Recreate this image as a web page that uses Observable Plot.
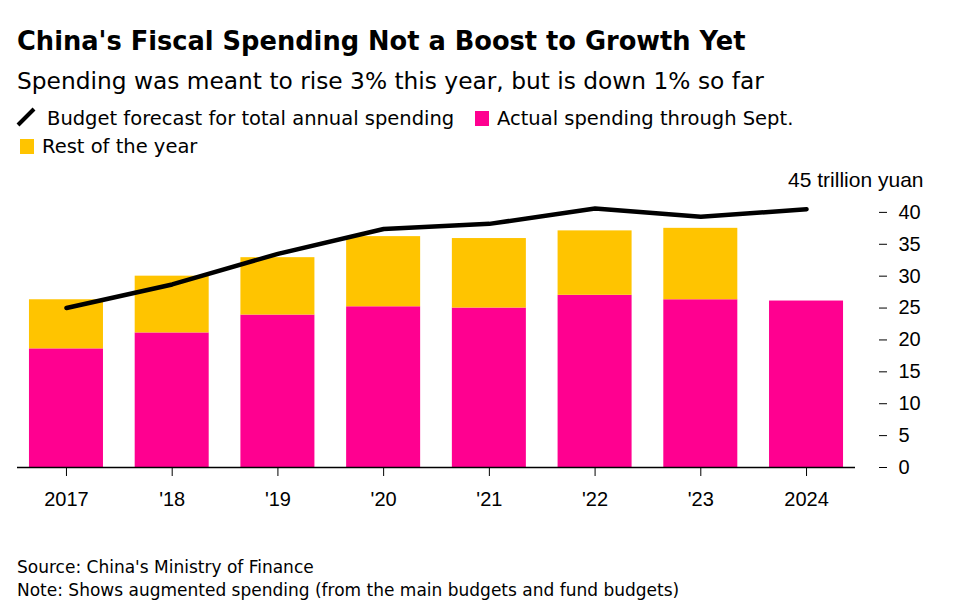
<!DOCTYPE html>
<html><head><meta charset="utf-8">
<script src="https://cdn.jsdelivr.net/npm/d3@7"></script>
<script src="https://cdn.jsdelivr.net/npm/@observablehq/plot@0.6"></script>
<style>
body{margin:0;background:#fff;font-family:"DejaVu Sans",sans-serif;color:#000;}
#wrap{position:relative;width:968px;height:608px;overflow:hidden;background:#fff;}
.t{position:absolute;white-space:nowrap;line-height:1;}
.sw{position:absolute;width:14px;height:15px;}
</style></head><body>
<div id="wrap">
<div class="t" style="left:17px;top:29px;font-size:25.7px;font-weight:bold">China's Fiscal Spending Not a Boost to Growth Yet</div>
<div class="t" style="left:17px;top:69px;font-size:23.3px">Spending was meant to rise 3% this year, but is down 1% so far</div>
<svg style="position:absolute;left:14px;top:105px" width="26" height="26"><line x1="4" y1="20" x2="20" y2="4" stroke="#000" stroke-width="4"/></svg>
<div class="t" style="left:47px;top:108.5px;font-size:19.5px">Budget forecast for total annual spending</div>
<div class="sw" style="left:475px;top:111px;background:#FF0090"></div>
<div class="t" style="left:497px;top:108.5px;font-size:19.5px">Actual spending through Sept.</div>
<div class="sw" style="left:20px;top:139px;background:#FFC400"></div>
<div class="t" style="left:42px;top:136.5px;font-size:19.5px">Rest of the year</div>
<div id="chart" style="position:absolute;left:0;top:165px"></div>
<div class="t" style="left:17px;top:559px;font-size:17px">Source: China's Ministry of Finance</div>
<div class="t" style="left:17px;top:582px;font-size:17px">Note: Shows augmented spending (from the main budgets and fund budgets)</div>
</div>
<script>
const years = [2017, 2018, 2019, 2020, 2021, 2022, 2023, 2024];
const tickLabels = ["2017", "'18", "'19", "'20", "'21", "'22", "'23", "2024"];
const actualSpending = [18.6, 21.1, 23.9, 25.2, 25.0, 27.0, 26.3, 26.1];
const restOfYear = [7.7, 8.9, 9.0, 11.0, 10.9, 10.1, 11.2, null];
const budgetForecast = [25.0, 28.7, 33.5, 37.4, 38.2, 40.6, 39.3, 40.5];
const yTicks = [0, 5, 10, 15, 20, 25, 30, 35, 40];
const seriesNames = ["Actual spending through Sept.", "Rest of the year"];
const seriesColors = ["#FF0090", "#FFC400"];

const bars = [];
years.forEach((y, i) => {
  bars.push({year: y, part: seriesNames[0], value: actualSpending[i]});
  if (restOfYear[i] != null) bars.push({year: y, part: seriesNames[1], value: restOfYear[i]});
});
const budget = years.map((y, i) => ({year: y, value: budgetForecast[i]}));

const chart = Plot.plot({
  width: 968, height: 360,
  marginTop: 15, marginBottom: 58, marginLeft: 13, marginRight: 109,
  style: {fontFamily: "Liberation Sans, Arial, sans-serif", fontSize: "20px", color: "#000", background: "transparent"},
  x: {type: "band", domain: years, paddingInner: 0.3, paddingOuter: 0.151, round: false, label: null},
  y: {domain: [0, 45], label: null},
  color: {domain: seriesNames, range: seriesColors},
  marks: [
    Plot.barY(bars, {x: "year", y: "value", fill: "part", order: seriesNames}),
    Plot.ruleY([0], {stroke: "#000", strokeWidth: 1.5, insetLeft: 4, insetRight: 4}),
    Plot.axisX({tickSize: 9, tickPadding: 15, fontSize: 20, tickFormat: d => tickLabels[years.indexOf(d)], label: null}),
    Plot.axisY(yTicks, {anchor: "right", tickSize: 8, tickPadding: 12, dx: 19, fontSize: 20, label: null}),
    Plot.text([45], {y: d => d, text: () => "45 trillion yuan", frameAnchor: "right", textAnchor: "end", dx: 64, fontSize: 21}),
    Plot.line(budget, {x: "year", y: "value", stroke: "#000", strokeWidth: 4.5, strokeLinejoin: "round", strokeLinecap: "round"})
  ]
});
document.getElementById("chart").appendChild(chart);
</script>
</body></html>
